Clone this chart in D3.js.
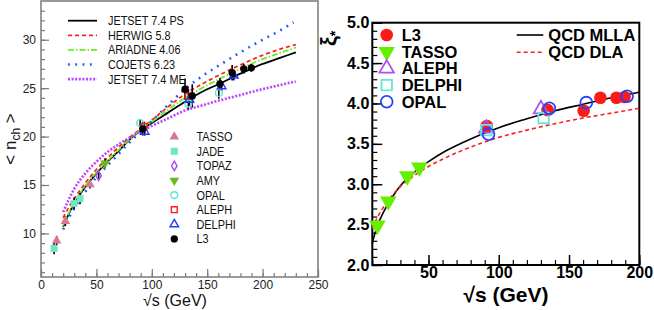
<!DOCTYPE html>
<html><head><meta charset="utf-8">
<script src="https://cdn.jsdelivr.net/npm/d3@7"></script>
<style>
body{margin:0;background:#fff;}
svg{display:block;}
text{font-family:"Liberation Sans",Arial,Helvetica,sans-serif;}
</style></head>
<body><svg id="c" width="654" height="310"></svg>
<script>
// ---------- LEFT PANEL DATA: <n_ch> vs sqrt(s) ----------
const leftXTicks = [0,50,100,150,200,250];
const leftYTicks = [10,15,20,25,30];
const modelNames = ["JETSET 7.4 PS","HERWIG 5.8","ARIADNE 4.06","COJETS  6.23","JETSET 7.4 ME"];
const jetsetPS = [[20,10.7],[25,12.0],[30,13.1],[35,14.0],[40,14.8],[50,16.2],[60,17.4],[70,18.5],[80,19.7],[91,20.7],[100,21.4],[115,22.5],[130,23.6],[145,24.6],[160,25.4],[180,26.5],[200,27.5],[215,28.1],[230,28.7]];
const herwig = [[20,11.6],[25,12.7],[30,13.6],[40,15.2],[50,16.6],[60,17.8],[70,18.9],[80,19.9],[91,20.9],[100,21.7],[115,23.1],[130,24.4],[145,25.4],[160,26.3],[180,27.4],[200,28.4],[215,29.0],[230,29.5]];
const ariadne = [[20,10.8],[25,12.1],[30,13.2],[35,14.1],[40,14.9],[50,16.3],[60,17.5],[70,18.6],[80,19.7],[91,20.8],[100,21.5],[115,22.8],[130,24.0],[145,25.0],[160,25.9],[180,27.0],[200,28.0],[215,28.6],[230,29.2]];
const cojets = [[20,10.4],[25,11.6],[30,12.6],[40,14.3],[50,15.8],[60,17.0],[70,18.2],[80,19.4],[91,20.6],[100,21.6],[115,23.3],[130,24.9],[145,26.2],[160,27.3],[180,28.7],[200,30.0],[215,30.9],[228,31.8]];
const jetsetME = [[20,12.2],[25,13.5],[30,14.6],[40,16.2],[50,17.4],[60,18.4],[70,19.2],[80,19.9],[91,20.6],[100,21.1],[115,21.9],[130,22.7],[145,23.2],[160,23.7],[180,24.3],[200,24.9],[215,25.3],[230,25.7]];
const models = [jetsetPS, herwig, ariadne, cojets, jetsetME];
const modelColors = ["#000000","#ff2020","#66ee22","#2255ff","#bb44ff"];
const modelDash = ["", "4,3", "6,2,1.5,2", "1.8,5.5", "2,1.6"];

const expNames = ["TASSO","JADE","TOPAZ","AMY","OPAL","ALEPH","DELPHI","L3"];
// [sqrt(s), <n_ch>, error]
const tassoN = [[14.1,9.25,0.5],[22,11.25,0.5],[44.2,15.05,0.4]];
const jadeN = [[11.8,8.45,0.6],[29.9,13.1,0.6],[35.2,13.6,0.6]];
const topazN = [[52,15.95,0.3]];
const amyN = [[57.8,17.25,0.5]];
const opalN = [[89.5,21.4,0.4],[133,23.4,0.6],[160.5,24.5,0.6]];
const alephN = [[93,21.05,0.5],[133,24.2,0.7]];
const delphiN = [[93.6,20.5,0.4],[134,23.8,0.6],[163,25.2,0.5],[174,26.3,0.5]];
const l3N = [[91.8,20.8,0.7],[130,24.9,1.1],[136.5,24.2,1.2],[161.5,25.45,0.6],[172.5,26.6,0.8],[183,27.0,0.5],[189.8,27.1,0.4]];
const expDataN = [tassoN, jadeN, topazN, amyN, opalN, alephN, delphiN, l3N];

// ---------- RIGHT PANEL DATA: xi* vs sqrt(s) ----------
const rightXTicks = [50,100,150,200];
const rightYTicks = [2.0,2.5,3.0,3.5,4.0,4.5,5.0];
const rExpNames = ["L3","TASSO","ALEPH","DELPHI","OPAL"];
const l3Xi = [[91.5,3.72],[134.7,3.92],[160.4,3.91],[172.3,4.07],[183.7,4.07],[189.5,4.08]];
const tassoXi = [[13.6,2.49],[21.4,2.79],[34.9,3.10],[43.5,3.21]];
const alephXi = [[91.2,3.69],[130,3.93]];
const delphiXi = [[91.2,3.67],[131.9,3.82]];
const opalXi = [[92.7,3.62],[136,3.94],[162.3,4.01],[191.3,4.09]];
const qcdNames = ["QCD MLLA","QCD DLA"];
const mlla = [[10,2.27],[12,2.4],[14,2.5],[17,2.62],[20,2.72],[25,2.86],[30,2.98],[40,3.15],[50,3.28],[60,3.39],[70,3.48],[80,3.56],[91,3.64],[100,3.70],[120,3.81],[140,3.91],[160,3.99],[180,4.07],[200,4.14]];
const dla = [[10,2.45],[12,2.53],[14,2.6],[17,2.69],[20,2.77],[25,2.88],[30,2.97],[40,3.11],[50,3.22],[60,3.31],[70,3.39],[80,3.46],[91,3.53],[100,3.58],[120,3.67],[140,3.75],[160,3.82],[180,3.88],[200,3.94]];

const svg = d3.select("#c");

// ================= LEFT PANEL =================
const xL = d3.scaleLinear().domain([0,250]).range([41,318]);
const yL = d3.scaleLinear().domain([5.5,34]).range([277,1]);
const gL = svg.append("g");
const frameCol = "#7a7a7a";

function axisStyle(g, col){
  g.select(".domain").remove();
  g.selectAll(".tick line").attr("stroke", col).attr("stroke-width", 1.2);
}
gL.append("g").attr("transform","translate(0,277)")
  .call(d3.axisBottom(xL).tickValues(d3.range(0,251,10)).tickSize(-4).tickFormat(""))
  .call(g=>axisStyle(g, frameCol));
gL.append("g").attr("transform","translate(41,0)")
  .call(d3.axisLeft(yL).tickValues(d3.range(6,34,1)).tickSize(-4).tickFormat(""))
  .call(g=>axisStyle(g, frameCol));
gL.append("g").attr("transform","translate(0,277)")
  .call(d3.axisBottom(xL).tickValues(leftXTicks).tickSize(-8).tickPadding(3).tickFormat(d3.format("d")))
  .call(g=>{axisStyle(g, frameCol); g.selectAll("text").attr("font-size",12).attr("fill","#222").attr("font-family","Liberation Sans, Arial").attr("dy","0.72em");});
gL.append("g").attr("transform","translate(41,0)")
  .call(d3.axisLeft(yL).tickValues(leftYTicks).tickSize(-8).tickPadding(5).tickFormat(d3.format("d")))
  .call(g=>{axisStyle(g, frameCol); g.selectAll("text").attr("font-size",12).attr("fill","#222").attr("font-family","Liberation Sans, Arial");});
gL.append("rect").attr("x",41).attr("y",1).attr("width",277).attr("height",276)
  .attr("fill","none").attr("stroke",frameCol).attr("stroke-width",1.5);

const lineL = d3.line().x(d=>xL(d[0])).y(d=>yL(d[1])).curve(d3.curveMonotoneX);
const modelWidth = [1.8,1.8,1.8,2.6,2.6];
models.forEach((m,i)=>{
  gL.append("path").attr("d",lineL(m)).attr("fill","none")
    .attr("stroke",modelColors[i]).attr("stroke-width", modelWidth[i])
    .attr("stroke-dasharray",modelDash[i]||null);
});

const expStyle = [
  {shape:d3.symbolTriangle, size:40, fill:"#d67894", stroke:"none"},
  {shape:d3.symbolSquare, size:50, fill:"#70e6c4", stroke:"none"},
  {shape:d3.symbolDiamond, size:26, fill:"none", stroke:"#a64cf0"},
  {shape:d3.symbolTriangle, size:40, fill:"#6ab81e", stroke:"none", rot:180},
  {shape:d3.symbolCircle, size:36, fill:"none", stroke:"#5fe8d6"},
  {shape:d3.symbolSquare, size:34, fill:"none", stroke:"#ff1a1a"},
  {shape:d3.symbolTriangle, size:32, fill:"none", stroke:"#1f3cff"},
  {shape:d3.symbolCircle, size:42, fill:"#000", stroke:"none"}
];
function drawSym(g, st, x, y, sw){
  g.append("path").attr("d", d3.symbol(st.shape, st.size)())
    .attr("transform",`translate(${x},${y})`+(st.rot?` rotate(${st.rot})`:""))
    .attr("fill",st.fill).attr("stroke",st.stroke).attr("stroke-width",sw||1.4);
}
expDataN.forEach((arr)=>{
  arr.forEach(d=>{
    gL.append("line").attr("x1",xL(d[0])).attr("x2",xL(d[0]))
      .attr("y1",yL(d[1]-d[2])).attr("y2",yL(d[1]+d[2]))
      .attr("stroke","#000").attr("stroke-width",1.6);
  });
});
expDataN.forEach((arr,i)=>{
  arr.forEach(d=>drawSym(gL, expStyle[i], xL(d[0]), yL(d[1])));
});

modelNames.forEach((n,i)=>{
  const y = 20.7 + i*14.6;
  gL.append("line").attr("x1",68).attr("x2",97).attr("y1",y).attr("y2",y)
    .attr("stroke",modelColors[i]).attr("stroke-width", modelWidth[i])
    .attr("stroke-dasharray",modelDash[i]||null);
  gL.append("text").attr("transform",`translate(108,${y+4.5}) scale(0.85,1)`)
    .attr("font-size",12.8).attr("fill","#111").text(n);
});
expNames.forEach((n,i)=>{
  const y = 136.7 + i*14.6;
  drawSym(gL, expStyle[i], 174.3, y);
  gL.append("text").attr("transform",`translate(196.5,${y+4.5}) scale(0.85,1)`)
    .attr("font-size",12.8).attr("fill","#111").text(n);
});
gL.append("text").attr("x",175).attr("y",306).attr("text-anchor","middle")
  .attr("font-size",16).attr("fill","#111").text("√s  (GeV)");
const yt = gL.append("text").attr("transform","translate(16,139) rotate(-90)")
  .attr("text-anchor","middle").attr("font-size",17).attr("fill","#111");
yt.append("tspan").text("< n");
yt.append("tspan").attr("font-size",12).attr("dy",4).text("ch");
yt.append("tspan").attr("dy",-4).text(" >");

// ================= RIGHT PANEL =================
const xR = d3.scaleLinear().domain([10,200]).range([372.3,639.3]);
const yR = d3.scaleLinear().domain([2,5]).range([265,22.7]);
const gR = svg.append("g");

gR.append("g").attr("transform","translate(0,265)")
  .call(d3.axisBottom(xR).tickValues(d3.range(10,201,10)).tickSize(-5).tickFormat(""))
  .call(g=>axisStyle(g,"#000"));
gR.append("g").attr("transform","translate(372.3,0)")
  .call(d3.axisLeft(yR).tickValues(d3.range(2,5.001,0.1)).tickSize(-5).tickFormat(""))
  .call(g=>axisStyle(g,"#000"));
gR.append("g").attr("transform","translate(0,265)")
  .call(d3.axisBottom(xR).tickValues(rightXTicks).tickSize(-10).tickPadding(3).tickFormat(d3.format("d")))
  .call(g=>{axisStyle(g,"#000"); g.selectAll(".tick line").attr("stroke-width",1.5); g.selectAll("text").attr("font-size",16).attr("font-weight","bold").attr("fill","#000").attr("font-family","Liberation Sans, Arial").attr("dy","0.62em");});
gR.append("g").attr("transform","translate(372.3,0)")
  .call(d3.axisLeft(yR).tickValues(rightYTicks).tickSize(-10).tickPadding(3).tickFormat(d3.format(".1f")))
  .call(g=>{axisStyle(g,"#000"); g.selectAll(".tick line").attr("stroke-width",1.5); g.selectAll("text").attr("font-size",16).attr("font-weight","bold").attr("fill","#000").attr("font-family","Liberation Sans, Arial");});
gR.append("rect").attr("x",372.3).attr("y",22.7).attr("width",267).attr("height",242.3)
  .attr("fill","none").attr("stroke","#000").attr("stroke-width",2);

const lineR = d3.line().x(d=>xR(d[0])).y(d=>yR(d[1])).curve(d3.curveMonotoneX);
gR.append("path").attr("d",lineR(mlla)).attr("fill","none").attr("stroke","#000").attr("stroke-width",1.6);
gR.append("path").attr("d",lineR(dla)).attr("fill","none").attr("stroke","#ff2020").attr("stroke-width",1.6).attr("stroke-dasharray","4,3");

const rStyle = [
  {shape:d3.symbolCircle, size:125, fill:"#ff1a1a", stroke:"none"},
  {shape:d3.symbolTriangle, size:120, fill:"#66ee00", stroke:"none", rot:180},
  {shape:d3.symbolTriangle, size:90, fill:"none", stroke:"#b050f0"},
  {shape:d3.symbolSquare, size:110, fill:"none", stroke:"#66e8d8"},
  {shape:d3.symbolCircle, size:110, fill:"none", stroke:"#2244ff"}
];
const rData = [l3Xi, tassoXi, alephXi, delphiXi, opalXi];
rData.forEach((arr,i)=>arr.forEach(d=>drawSym(gR, rStyle[i], xR(d[0]), yR(d[1]), 1.8)));

rExpNames.forEach((n,i)=>{
  const y = 35 + i*16.7;
  drawSym(gR, rStyle[i], 386.7, y, 1.8);
  gR.append("text").attr("x",401.7).attr("y",y+6).attr("font-size",16.5).attr("font-weight","bold").attr("fill","#000").text(n);
});
qcdNames.forEach((n,i)=>{
  const y = 35 + i*17.3;
  gR.append("line").attr("x1",516.7).attr("x2",543.3).attr("y1",y).attr("y2",y)
    .attr("stroke", i===0?"#000":"#ff2020").attr("stroke-width",1.6).attr("stroke-dasharray", i===0?null:"4,3");
  gR.append("text").attr("x",548.3).attr("y",y+6).attr("font-size",16.5).attr("font-weight","bold").attr("fill","#000").text(n);
});
gR.append("text").attr("x",506).attr("y",302).attr("text-anchor","middle")
  .attr("font-size",21).attr("font-weight","bold").attr("fill","#000").text("√s  (GeV)");
const xt = gR.append("text").attr("transform","translate(336,46) rotate(-90)")
  .attr("font-size",22).attr("font-weight","bold").attr("fill","#000");
xt.append("tspan").text("ξ");
xt.append("tspan").attr("font-size",14).attr("dy",4).text("*");
</script></body></html>
